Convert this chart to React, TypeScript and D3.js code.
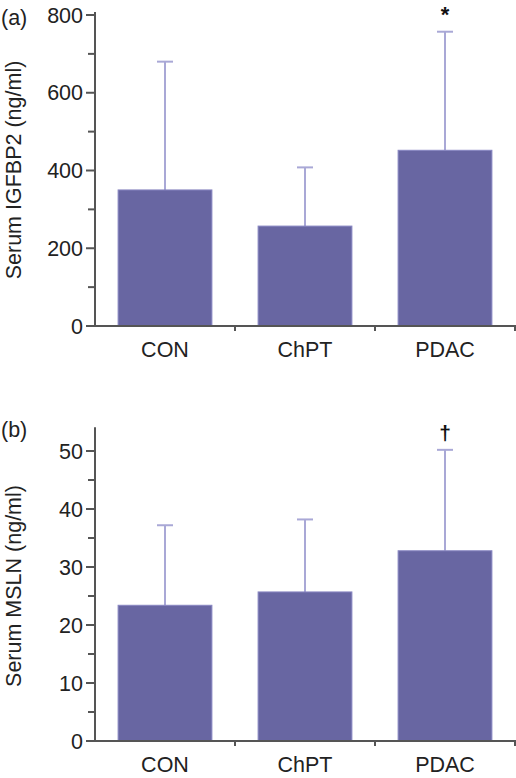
import React from "react";
import * as d3 from "d3";

const categories = ["CON", "ChPT", "PDAC"];
const igfbp2Mean = [350, 257, 452];
const igfbp2Sd = [330, 151, 305];
const mslnMean = [23.4, 25.7, 32.8];
const mslnSd = [13.8, 12.5, 17.4];
const igfbp2Ticks = [0, 200, 400, 600, 800];
const igfbp2Minor = [100, 300, 500, 700];
const mslnTicks = [0, 10, 20, 30, 40, 50];
const mslnMinor = [5, 15, 25, 35, 45];
const igfbp2Marks = ["", "", "*"];
const mslnMarks = ["", "", "†"];

const W = 516;
const H = 778;
const FONT = "'Liberation Sans', Arial, Helvetica, sans-serif";
const FS = 21.5;
const BAR = "#6866a2";
const BAR_EDGE = "#8886c2";
const ERR = "#a9a8d6";
const AXIS = "#555";
const TEXT = "#222";

type PanelProps = {
  tag: string;
  title: string;
  mean: number[];
  sd: number[];
  ticks: number[];
  minor: number[];
  marks: string[];
  domain: [number, number];
  yBottom: number;
  yTopVal: number;
  axisTopVal: number;
  tagY: number;
  titleY: number;
};

function Panel(p: PanelProps) {
  const x = d3.scaleBand<string>().domain(categories).range([95, 515]).padding(0);
  const y = d3.scaleLinear().domain(p.domain).range([p.yBottom, p.yTopVal]);
  const bw = x.bandwidth() * 0.67;
  const capW = 16;
  const axisX = 95;
  return (
    <g>
      <text x={1} y={p.tagY} fontSize={FS} fontFamily={FONT} fill={TEXT}>{p.tag}</text>
      <text
        transform={`translate(21,${p.titleY}) rotate(-90)`}
        textAnchor="middle"
        fontSize={FS}
        fontFamily={FONT}
        fill={TEXT}
      >
        {p.title}
      </text>
      {categories.map((c, i) => {
        const cx = (x(c) as number) + x.bandwidth() / 2;
        const top = y(p.mean[i] + p.sd[i]);
        return (
          <g key={c}>
            <line x1={cx} x2={cx} y1={y(p.mean[i])} y2={top} stroke={ERR} strokeWidth={2} />
            <line x1={cx - capW / 2} x2={cx + capW / 2} y1={top} y2={top} stroke={ERR} strokeWidth={2} />
            <rect
              x={cx - bw / 2}
              y={y(p.mean[i])}
              width={bw}
              height={y(0) - y(p.mean[i])}
              fill={BAR}
              stroke={BAR_EDGE}
              strokeWidth={1}
            />
            {p.marks[i] && (
              <text
                x={cx}
                y={top - 10}
                textAnchor="middle"
                fontSize={p.marks[i] === "*" ? 22 : 21}
                fontWeight="bold"
                fontFamily={FONT}
                fill="#111"
              >
                {p.marks[i]}
              </text>
            )}
            <text
              x={cx}
              y={p.yBottom + 31}
              textAnchor="middle"
              fontSize={FS}
              fontFamily={FONT}
              fill={TEXT}
            >
              {c}
            </text>
          </g>
        );
      })}
      <line x1={axisX} x2={axisX} y1={y(p.axisTopVal)} y2={y(0)} stroke={AXIS} strokeWidth={2} />
      {p.ticks.map((t) => (
        <g key={"t" + t}>
          <line x1={axisX - 9} x2={axisX} y1={y(t)} y2={y(t)} stroke={AXIS} strokeWidth={2} />
          <text
            x={axisX - 12}
            y={y(t)}
            dy="0.36em"
            textAnchor="end"
            fontSize={FS}
            fontFamily={FONT}
            fill={TEXT}
          >
            {t}
          </text>
        </g>
      ))}
      {p.minor.map((t) => (
        <line key={"m" + t} x1={axisX - 7} x2={axisX} y1={y(t)} y2={y(t)} stroke={AXIS} strokeWidth={2} />
      ))}
      <line x1={axisX} x2={W} y1={y(0)} y2={y(0)} stroke={AXIS} strokeWidth={2} />
      {categories.map((c) => {
        const xr = (x(c) as number) + x.bandwidth();
        return <line key={"xt" + c} x1={xr} x2={xr} y1={y(0)} y2={y(0) + 5} stroke={AXIS} strokeWidth={2} />;
      })}
    </g>
  );
}

export default function App() {
  return (
    <svg
      width={W}
      height={H}
      viewBox={`0 0 ${W} ${H}`}
      style={{ position: "absolute", left: 0, top: 0, background: "#fff" }}
    >
      <rect width={W} height={H} fill="#fff" />
      <Panel
        tag="(a)"
        title="Serum IGFBP2 (ng/ml)"
        mean={igfbp2Mean}
        sd={igfbp2Sd}
        ticks={igfbp2Ticks}
        minor={igfbp2Minor}
        marks={igfbp2Marks}
        domain={[0, 800]}
        yBottom={326}
        yTopVal={15}
        axisTopVal={808}
        tagY={25}
        titleY={170}
      />
      <Panel
        tag="(b)"
        title="Serum MSLN (ng/ml)"
        mean={mslnMean}
        sd={mslnSd}
        ticks={mslnTicks}
        minor={mslnMinor}
        marks={mslnMarks}
        domain={[0, 50]}
        yBottom={741}
        yTopVal={451}
        axisTopVal={54.1}
        tagY={437}
        titleY={586}
      />
    </svg>
  );
}
